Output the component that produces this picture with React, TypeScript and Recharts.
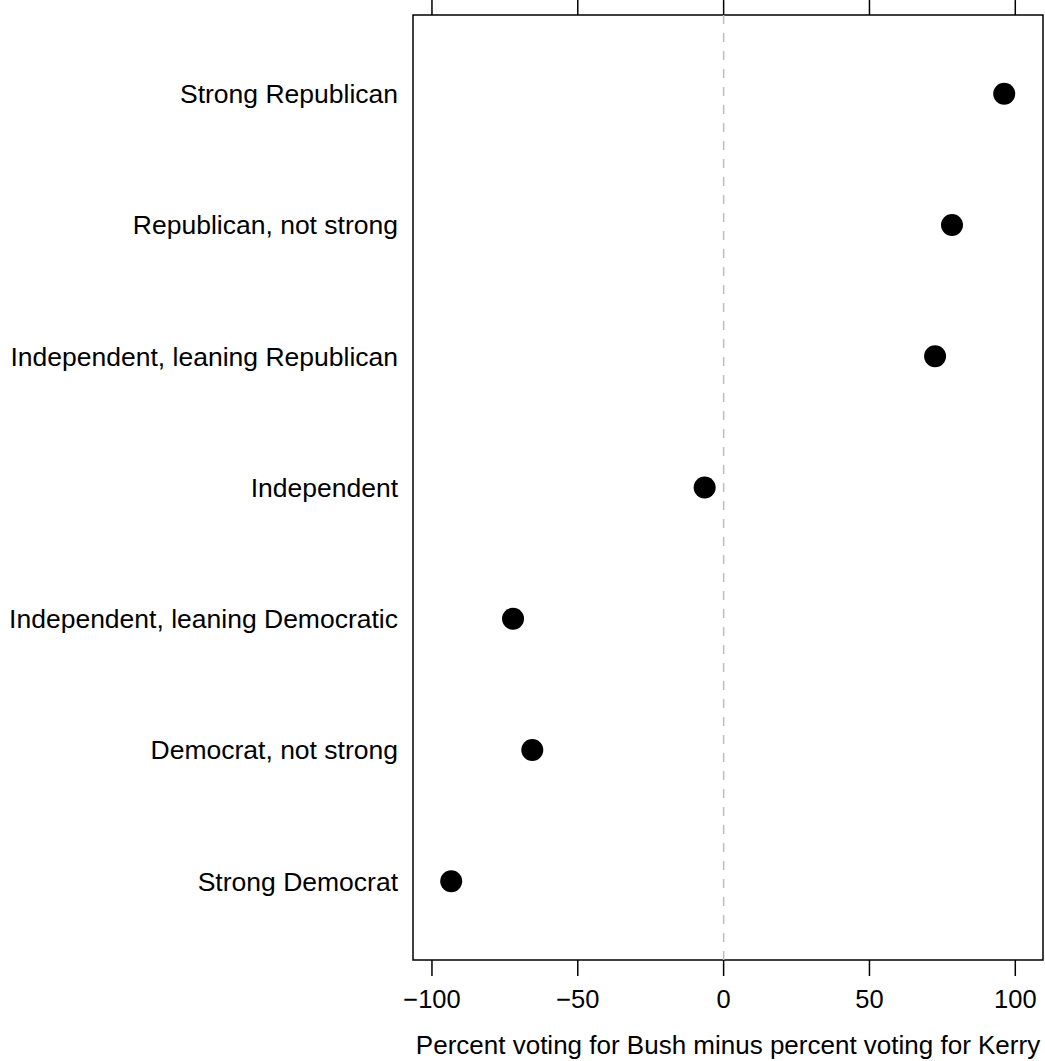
import React from "react";
import {
  ScatterChart,
  Scatter,
  XAxis,
  YAxis,
  ReferenceLine,
  ReferenceArea,
} from "recharts";

// party identification groups, bottom to top
const groups = [
  "Strong Democrat",
  "Democrat, not strong",
  "Independent, leaning Democratic",
  "Independent",
  "Independent, leaning Republican",
  "Republican, not strong",
  "Strong Republican",
];

// Bush % minus Kerry %
const margins = [-93.4, -65.6, -72.2, -6.5, 72.5, 78.3, 96.2];

const xTicks = [-100, -50, 0, 50, 100];
const xDomain: [number, number] = [-106.5, 109.5];
const yDomain: [number, number] = [0.4, 7.6];
// top tick marks extend this far above the frame (in y units)
const topTickLen = 0.114;

const data = groups.map((g, i) => ({ group: g, pos: i + 1, value: margins[i] }));

const FONT = "'Liberation Sans', Arial, Helvetica, sans-serif";

const Dot = (props: any) => <circle cx={props.cx} cy={props.cy} r={11} fill="#000" />;

export default function App() {
  return (
    <div style={{ position: "absolute", left: 0, top: 0, background: "#fff" }}>
      <ScatterChart
        width={1045}
        height={1061}
        margin={{ top: 15, right: 2, bottom: 0, left: 0 }}
        style={{ fontFamily: FONT }}
      >
        <XAxis
          type="number"
          dataKey="value"
          domain={xDomain}
          ticks={xTicks}
          height={101}
          axisLine={false}
          tickLine={{ stroke: "#000", strokeWidth: 1.5 }}
          tickSize={16}
          tickMargin={14}
          tick={{ fill: "#000", fontSize: 25.5 }}
          tickFormatter={(v: number) => String(v).replace("-", "\u2212")}
          label={{
            value: "Percent voting for Bush minus percent voting for Kerry",
            position: "insideBottom",
            offset: 7,
            fill: "#000",
            fontSize: 26,
          }}
        />
        <YAxis
          type="number"
          dataKey="pos"
          domain={yDomain}
          ticks={[1, 2, 3, 4, 5, 6, 7]}
          width={413}
          axisLine={false}
          tickLine={false}
          tickSize={0}
          tickMargin={15}
          tick={{ fill: "#000", fontSize: 26.5 }}
          tickFormatter={(v: number) => groups[v - 1]}
        />
        <ReferenceArea
          x1={xDomain[0]}
          x2={xDomain[1]}
          y1={yDomain[0]}
          y2={yDomain[1]}
          fill="none"
          fillOpacity={0}
          stroke="#000"
          strokeWidth={1.5}
        />
        {xTicks.map((t) => (
          <ReferenceLine
            key={t}
            segment={[
              { x: t, y: yDomain[1] },
              { x: t, y: yDomain[1] + topTickLen },
            ]}
            ifOverflow="visible"
            stroke="#000"
            strokeWidth={1.5}
          />
        ))}
        <ReferenceLine x={0} stroke="#bdbdbd" strokeWidth={1.5} strokeDasharray="9 9" />
        <Scatter data={data} shape={Dot} isAnimationActive={false} />
      </ScatterChart>
    </div>
  );
}
